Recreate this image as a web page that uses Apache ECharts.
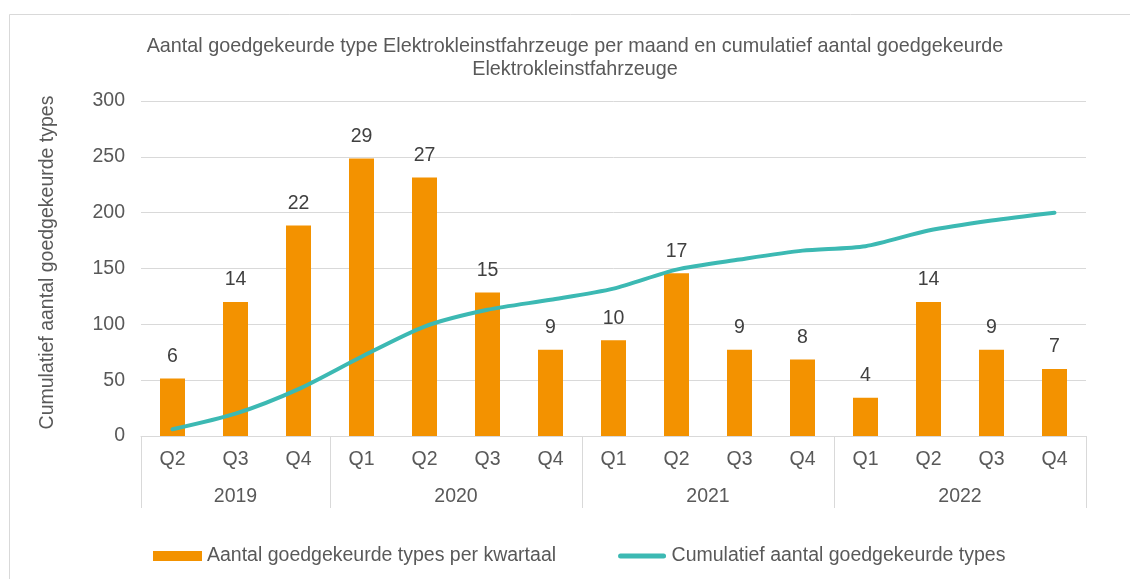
<!DOCTYPE html>
<html>
<head>
<meta charset="utf-8">
<script src="https://cdn.jsdelivr.net/npm/echarts@6/dist/echarts.min.js"></script>
<style>
html,body{margin:0;padding:0;background:#fff;}
#chart{width:1130px;height:579px;}
</style>
</head>
<body>
<div id="chart"></div>
<script>
const quarters = ['Q2','Q3','Q4','Q1','Q2','Q3','Q4','Q1','Q2','Q3','Q4','Q1','Q2','Q3','Q4'];
const years = ['2019','2020','2021','2022'];
const quartersPerYear = [3,4,4,4];
const perQuarter = [6,14,22,29,27,15,9,10,17,9,8,4,14,9,7];
const cumulative = [6,20,42,71,98,113,122,132,149,158,166,170,184,193,200];
const yTicks = [0,50,100,150,200,250,300];

const titleText = 'Aantal goedgekeurde type Elektrokleinstfahrzeuge per maand en cumulatief aantal goedgekeurde\nElektrokleinstfahrzeuge';
const barName = 'Aantal goedgekeurde types per kwartaal';
const lineName = 'Cumulatief aantal goedgekeurde types';

// year group boundaries and centers on a 0..N value scale
const bounds = [0];
quartersPerYear.forEach(n => bounds.push(bounds[bounds.length-1] + n));
const centers = quartersPerYear.map((n,i) => bounds[i] + n/2);
const centerToYear = {};
centers.forEach((c,i) => centerToYear[c] = years[i]);

const textColor = '#595959';
const gridColor = '#D9D9D9';
const lineColor = '#3CB9B3';
const font = 'Liberation Sans, Arial, sans-serif';
const fs = 19.5;

const chart = echarts.init(document.getElementById('chart'), null, {renderer:'canvas'});
chart.setOption({
  backgroundColor: '#fff',
  animation: false,
  graphic: [{
    type: 'rect', silent: true, z: -10,
    shape: {x: 9.5, y: 14.5, width: 1140, height: 600},
    style: {fill: 'none', stroke: '#D9D9D9', lineWidth: 1}
  }],
  title: {
    text: titleText,
    left: 570, top: 30, textAlign: 'center',
    textStyle: {fontFamily: font, fontSize: 19.8, fontWeight: 'normal', color: textColor, lineHeight: 23}
  },
  legend: {
    left: 148, top: 541,
    itemWidth: 49, itemHeight: 10, itemGap: 62,
    textStyle: {fontFamily: font, fontSize: fs, color: textColor},
    data: [
      {name: barName, icon: 'rect'},
      {name: lineName, icon: 'path://M0,0L1,0L1,0.01Z M2.5,2.5L45.5,2.5A2.5,2.5,0,0,1,45.5,7.5L2.5,7.5A2.5,2.5,0,0,1,2.5,2.5Z M0,10L1,10L1,9.99Z',
       itemStyle: {color: lineColor}}
    ]
  },
  grid: {left: 141, right: 44, top: 101, bottom: 143, containLabel: false},
  xAxis: [{
    type: 'category', data: quarters, boundaryGap: true,
    axisLine: {show: true, lineStyle: {color: gridColor, width: 1}},
    axisTick: {show: false},
    axisLabel: {fontFamily: font, fontSize: fs, color: textColor, margin: 14, interval: 0},
    splitLine: {show: false}
  }, {
    type: 'value', min: 0, max: bounds[bounds.length-1], position: 'bottom',
    axisLine: {show: false},
    splitLine: {show: false},
    axisTick: {show: true, customValues: bounds, length: 72, lineStyle: {color: gridColor, width: 1}},
    axisLabel: {show: true, customValues: centers, margin: 51, fontFamily: font, fontSize: fs, color: textColor,
      formatter: v => centerToYear[v] || ''}
  }],
  yAxis: [{
    type: 'value', min: yTicks[0], max: yTicks[yTicks.length-1], interval: 50,
    name: 'Cumulatief aantal goedgekeurde types',
    nameLocation: 'middle', nameRotate: 90, nameGap: 83,
    nameTextStyle: {fontFamily: font, fontSize: fs, color: textColor, padding: [0, 0, 0, 12]},
    axisLine: {show: false}, axisTick: {show: false},
    axisLabel: {fontFamily: font, fontSize: fs, color: textColor, margin: 16},
    splitLine: {show: true, lineStyle: {color: gridColor, width: 1}}
  }, {
    type: 'value', min: 0, max: 35, show: false, splitLine: {show: false}
  }],
  series: [{
    name: barName, type: 'bar', data: perQuarter,
    xAxisIndex: 0, yAxisIndex: 1, barWidth: 25,
    itemStyle: {color: '#F39200'},
    label: {show: true, position: 'top', distance: 12, fontFamily: font, fontSize: fs, color: '#404040'}
  }, {
    name: lineName, type: 'line', data: cumulative,
    xAxisIndex: 0, yAxisIndex: 0,
    smooth: 0.25, symbol: 'none', showSymbol: false, z: 5,
    lineStyle: {color: lineColor, width: 4, cap: 'round'},
    itemStyle: {color: lineColor}
  }]
});
</script>
</body>
</html>
